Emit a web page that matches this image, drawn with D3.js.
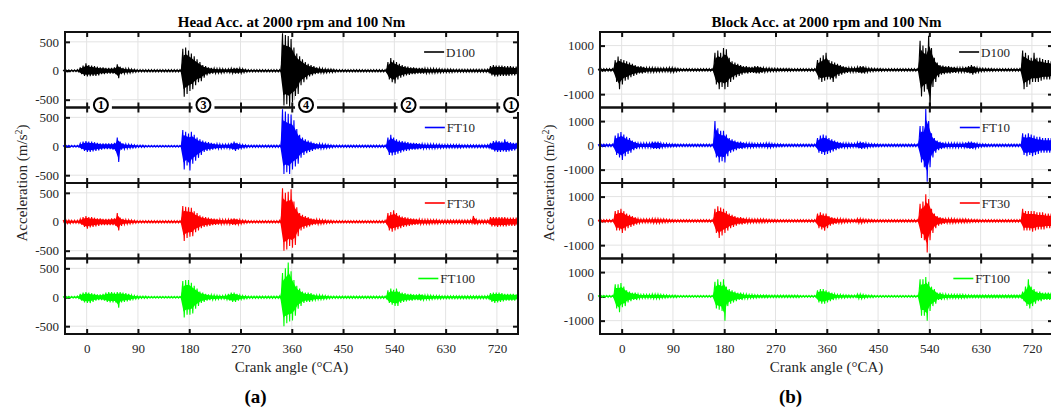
<!DOCTYPE html>
<html><head><meta charset="utf-8">
<script src="https://cdn.jsdelivr.net/npm/d3@7"></script>
<style>
body{margin:0;background:#fff}
svg{display:block}
text{font-family:"Liberation Serif","Times New Roman",serif}
</style>
</head><body>
<svg id="chart" width="1051" height="407"></svg>
<script>
// ---------------- DATA ----------------
// crank-angle bins (°CA), 5° apart, first bin at -40
const angles = d3.range(-40, 760, 5);
const xTicks = [0, 90, 180, 270, 360, 450, 540, 630, 720];
const headYTicks = [-500, 0, 500];
const blockYTicks = [-1000, 0, 1000];
const seriesNames = ["D100", "FT10", "FT30", "FT100"];
const seriesColors = ["#000000", "#0000ff", "#ff0000", "#00ff00"];
const annoLabels = ["1", "3", "4", "2", "1"];
const annoAngles = [25, 205, 385, 565, 745];
const titles = ["Head Acc. at 2000 rpm and 100 Nm", "Block Acc. at 2000 rpm and 100 Nm"];
const panelTags = ["(a)", "(b)"];

// Head accelerometer: per-bin positive / negative peaks (m/s²)
const headD100Hi = [15,15,15,15,15,20,60,90,130,100,90, 80,70,60,60,50,50,50,60,110,70, 50,40,40,30,25,20,20,20,20,20, 20,20,20,20,20,20,20,20,20,20, 20,380,400,350,300,250,200,150,100,80, 60,50,45,40,40,35,30,35,45,50, 50,45,35,25,20,20,20,20,20,20, 20,20,20,20,20,20,650,620,600,550, 400,300,250,200,150,120,100,80,60,50, 40,35,30,30,25,20,20,20,20,20, 20,20,20,20,20,20,20,20,20,20, 20,20,20,150,220,180,150,120,100,80, 70,60,60,50,50,50,45,40,40,40, 35,35,30,30,30,30,25,25,25,25, 25,25,25,25,25,25,25,25,30,80, 100,90,90,90,80,80,80,70,70];
const headD100Lo = [-15,-15,-15,-15,-15,-20,-60,-90,-100,-95,-90, -90,-80,-60,-60,-50,-50,-50,-60,-130,-60, -50,-40,-40,-30,-25,-20,-20,-20,-20,-20, -20,-20,-20,-20,-20,-20,-20,-20,-20,-20, -20,-450,-400,-350,-320,-250,-200,-180,-120,-80, -60,-50,-45,-40,-40,-35,-30,-35,-45,-50, -50,-45,-35,-25,-20,-20,-20,-20,-20,-20, -20,-20,-20,-20,-20,-20,-600,-580,-620,-550, -500,-400,-250,-200,-150,-100,-80,-60,-50,-40, -40,-35,-30,-30,-25,-20,-20,-20,-20,-20, -20,-20,-20,-20,-20,-20,-20,-20,-20,-20, -20,-20,-20,-150,-200,-220,-150,-120,-100,-80, -70,-60,-60,-50,-50,-50,-45,-40,-40,-40, -35,-35,-30,-30,-30,-30,-25,-25,-25,-25, -25,-25,-25,-25,-25,-25,-25,-25,-30,-80, -100,-100,-90,-90,-90,-90,-80,-80,-80];
const headFT10Hi = [15,15,15,15,15,15,50,80,90,80,80, 70,60,50,50,50,50,50,60,150,80, 50,40,35,30,25,20,20,20,15,15, 15,15,15,15,15,15,15,15,15,15, 15,280,250,220,250,200,150,120,100,80, 70,60,50,45,40,35,35,40,60,80, 60,40,30,25,20,20,20,20,20,20, 20,20,20,20,20,20,640,600,560,550, 450,300,200,150,120,100,80,60,50,45, 40,35,30,25,20,20,20,20,20,20, 20,20,20,20,20,20,20,20,20,20, 20,20,20,150,200,150,120,100,90,80, 70,60,60,55,50,45,40,40,40,40, 35,35,30,30,30,30,30,30,30,25, 25,25,25,25,25,25,25,25,30,60, 90,100,90,80,120,80,70,60,60];
const headFT10Lo = [-15,-15,-15,-15,-15,-15,-50,-80,-100,-100,-90, -80,-70,-60,-50,-50,-50,-60,-80,-270,-60, -50,-40,-35,-30,-25,-20,-20,-20,-15,-15, -15,-15,-15,-15,-15,-15,-15,-15,-15,-15, -15,-400,-330,-420,-300,-250,-200,-150,-100,-80, -70,-60,-50,-45,-40,-35,-35,-40,-60,-80, -60,-40,-30,-25,-20,-20,-20,-20,-20,-20, -20,-20,-20,-20,-20,-20,-480,-450,-480,-400, -350,-300,-200,-150,-120,-100,-80,-60,-50,-45, -40,-35,-30,-25,-20,-20,-20,-20,-20,-20, -20,-20,-20,-20,-20,-20,-20,-20,-20,-20, -20,-20,-20,-150,-160,-150,-130,-110,-90,-80, -70,-60,-60,-55,-50,-45,-40,-40,-40,-40, -35,-35,-30,-30,-30,-30,-30,-30,-30,-25, -25,-25,-25,-25,-25,-25,-25,-25,-30,-60, -90,-100,-100,-90,-100,-90,-80,-70,-60];
const headFT30Hi = [30,30,30,25,25,25,50,80,100,80,80, 70,60,60,50,50,50,60,60,150,70, 50,40,35,30,25,20,20,20,20,20, 20,20,20,20,20,20,20,20,20,20, 20,270,260,250,240,180,150,110,90,80, 70,60,55,50,45,40,40,45,55,60, 50,40,30,25,20,20,20,20,20,20, 20,20,20,20,20,25,580,500,520,560, 350,250,150,120,100,80,60,50,45,40, 35,30,25,25,20,20,20,20,20,20, 20,20,20,20,20,20,20,20,20,20, 20,20,25,150,170,200,150,110,90,80, 70,60,55,50,45,40,40,40,35,35, 35,30,30,30,30,30,30,30,30,30, 30,30,30,100,40,30,30,30,30,80, 80,80,80,80,80,70,70,70,70];
const headFT30Lo = [-30,-30,-30,-25,-25,-25,-50,-90,-120,-100,-90, -80,-70,-60,-60,-60,-60,-60,-70,-150,-70, -50,-40,-35,-30,-25,-20,-20,-20,-20,-20, -20,-20,-20,-20,-20,-20,-20,-20,-20,-20, -20,-330,-280,-260,-250,-180,-150,-110,-90,-80, -70,-60,-55,-50,-45,-40,-40,-45,-55,-60, -50,-40,-30,-25,-20,-20,-20,-20,-20,-20, -20,-20,-20,-20,-20,-25,-500,-480,-420,-450, -400,-250,-150,-120,-100,-80,-60,-50,-45,-40, -35,-30,-25,-25,-20,-20,-20,-20,-20,-20, -20,-20,-20,-20,-20,-20,-20,-20,-20,-20, -20,-20,-25,-150,-170,-150,-130,-110,-90,-80, -70,-60,-55,-50,-45,-40,-40,-40,-35,-35, -35,-30,-30,-30,-30,-30,-30,-30,-30,-30, -30,-30,-30,-50,-40,-30,-30,-30,-30,-80, -80,-90,-80,-80,-80,-70,-70,-70,-70];
const headFT100Hi = [15,15,15,15,15,20,60,80,90,80,70, 60,50,50,60,80,90,90,80,90,90, 80,70,60,40,30,25,20,20,20,15, 15,15,15,15,15,15,15,15,15,15, 15,280,300,300,250,200,150,100,80,60, 50,45,40,35,30,30,40,60,80,80, 60,40,30,25,20,20,20,20,20,20, 20,20,20,20,20,25,420,500,600,450, 300,200,150,100,80,80,70,50,40,40, 35,30,25,20,20,20,20,20,20,20, 20,20,20,20,20,20,20,20,20,20, 20,20,20,120,150,130,150,100,80,70, 60,60,50,50,60,50,40,40,35,30, 30,30,25,25,25,25,25,25,25,25, 25,25,25,25,25,25,25,25,30,70, 80,80,80,70,60,60,60,60,50];
const headFT100Lo = [-15,-15,-15,-15,-15,-20,-60,-90,-100,-100,-80, -60,-50,-50,-60,-80,-90,-90,-90,-180,-90, -80,-70,-60,-40,-30,-25,-20,-20,-20,-15, -15,-15,-15,-15,-15,-15,-15,-15,-15,-15, -15,-350,-300,-300,-280,-200,-150,-100,-80,-60, -50,-45,-40,-35,-30,-30,-40,-60,-80,-80, -60,-40,-30,-25,-20,-20,-20,-20,-20,-20, -20,-20,-20,-20,-20,-25,-500,-450,-420,-400, -320,-200,-150,-100,-80,-80,-70,-50,-40,-40, -35,-30,-25,-20,-20,-20,-20,-20,-20,-20, -20,-20,-20,-20,-20,-20,-20,-20,-20,-20, -20,-20,-20,-100,-130,-150,-150,-100,-80,-70, -60,-60,-50,-50,-60,-50,-40,-40,-35,-30, -30,-30,-25,-25,-25,-25,-25,-25,-25,-25, -25,-25,-25,-25,-25,-25,-25,-25,-30,-80, -100,-90,-80,-70,-60,-60,-60,-60,-50];

// Block accelerometer: per-bin positive / negative peaks (m/s²)
const blockD100Hi = [50,50,50,50,50,50,400,550,450,400,350, 300,250,200,150,150,120,100,100,100,90, 90,80,80,80,100,100,80,60,50,50, 50,50,50,50,50,50,50,50,50,50, 700,800,700,900,850,500,350,300,250,200, 150,150,120,120,150,150,120,100,80,80, 70,70,60,60,60,60,60,50,50,50, 50,50,50,50,50,50,400,500,600,700, 400,350,300,250,200,150,120,100,100,90, 120,150,150,100,80,70,60,60,60,50, 50,50,50,50,50,50,50,50,50,50, 50,50,1200,1000,900,1400,900,500,300,200, 180,150,150,120,120,100,100,100,120,150, 200,150,100,80,70,60,60,60,50,50, 50,50,50,50,50,50,50,50,800,700, 600,500,700,500,500,450,400,400,350];
const blockD100Lo = [-50,-50,-50,-50,-50,-50,-500,-800,-600,-450,-400, -300,-250,-200,-150,-150,-120,-100,-100,-100,-90, -90,-80,-80,-80,-100,-100,-80,-60,-50,-50, -50,-50,-50,-50,-50,-50,-50,-50,-50,-50, -600,-800,-700,-800,-700,-500,-400,-300,-250,-200, -150,-150,-120,-120,-150,-150,-120,-100,-80,-80, -70,-70,-60,-60,-60,-60,-60,-50,-50,-50, -50,-50,-50,-50,-50,-50,-400,-500,-450,-400, -400,-500,-350,-250,-200,-150,-120,-100,-100,-90, -120,-150,-150,-100,-80,-70,-60,-60,-60,-50, -50,-50,-50,-50,-50,-50,-50,-50,-50,-50, -50,-50,-1100,-900,-800,-1600,-700,-500,-300,-200, -180,-150,-150,-120,-120,-100,-100,-100,-120,-150, -200,-150,-100,-80,-70,-60,-60,-60,-50,-50, -50,-50,-50,-50,-50,-50,-50,-50,-800,-700, -600,-500,-500,-500,-450,-400,-400,-400,-350];
const blockFT10Hi = [50,50,50,50,50,50,400,500,550,450,350, 300,200,150,100,100,100,100,100,150,150, 150,100,80,80,70,60,60,50,50,50, 50,50,50,50,50,50,50,50,50,50, 1000,700,600,600,450,300,250,200,150,150, 120,100,100,90,80,80,80,80,100,100, 80,70,60,60,50,50,50,50,50,50, 50,50,50,50,50,50,300,400,450,400, 300,250,200,150,120,100,100,90,80,80, 120,150,130,100,80,70,60,60,50,50, 50,50,50,50,50,50,50,50,50,50, 50,50,800,800,1500,1000,500,300,200,150, 120,100,100,100,100,100,90,100,120,150, 150,120,90,70,60,60,50,50,50,50, 50,50,50,50,50,50,50,50,500,450, 500,450,400,350,350,300,300,300,300];
const blockFT10Lo = [-50,-50,-50,-50,-50,-50,-400,-500,-600,-450,-350, -300,-200,-150,-100,-100,-100,-100,-100,-150,-150, -150,-100,-80,-80,-70,-60,-60,-50,-50,-50, -50,-50,-50,-50,-50,-50,-50,-50,-50,-50, -500,-700,-650,-700,-450,-300,-250,-200,-150,-150, -120,-100,-100,-90,-80,-80,-80,-80,-100,-100, -80,-70,-60,-60,-50,-50,-50,-50,-50,-50, -50,-50,-50,-50,-50,-50,-300,-350,-400,-350, -300,-250,-200,-150,-120,-100,-100,-90,-80,-80, -120,-150,-130,-100,-80,-70,-60,-60,-50,-50, -50,-50,-50,-50,-50,-50,-50,-50,-50,-50, -50,-50,-700,-900,-1500,-900,-500,-300,-200,-150, -120,-100,-100,-100,-100,-100,-90,-100,-120,-150, -150,-120,-90,-70,-60,-60,-50,-50,-50,-50, -50,-50,-50,-50,-50,-50,-50,-50,-400,-450, -400,-450,-400,-350,-300,-300,-300,-300,-300];
const blockFT30Hi = [50,50,50,50,50,50,400,450,500,400,300, 250,200,150,100,80,80,80,80,100,100, 100,80,80,70,60,60,50,50,50,50, 50,50,50,50,50,50,50,50,50,50, 500,600,550,500,400,300,250,200,150,150, 120,100,90,80,80,80,80,80,70,60, 60,60,50,50,50,50,50,50,50,50, 50,50,50,50,50,50,300,350,300,300, 200,150,120,100,100,80,80,70,60,60, 100,100,80,70,60,60,50,50,50,50, 50,50,50,50,50,50,50,50,50,50, 50,50,700,800,1100,900,500,300,200,150, 120,100,100,100,90,80,80,80,80,70, 60,60,60,50,50,50,50,50,50,50, 50,50,50,50,50,50,50,50,500,400, 400,400,400,350,350,350,300,300,300];
const blockFT30Lo = [-50,-50,-50,-50,-50,-50,-400,-400,-500,-400,-300, -250,-200,-150,-100,-80,-80,-80,-80,-100,-100, -100,-80,-80,-70,-60,-60,-50,-50,-50,-50, -50,-50,-50,-50,-50,-50,-50,-50,-50,-50, -500,-700,-600,-500,-400,-300,-250,-200,-150,-150, -120,-100,-90,-80,-80,-80,-80,-80,-70,-60, -60,-60,-50,-50,-50,-50,-50,-50,-50,-50, -50,-50,-50,-50,-50,-50,-300,-350,-400,-300, -200,-150,-120,-100,-100,-80,-80,-70,-60,-60, -100,-100,-80,-70,-60,-60,-50,-50,-50,-50, -50,-50,-50,-50,-50,-50,-50,-50,-50,-50, -50,-50,-700,-800,-1300,-800,-500,-300,-200,-150, -120,-100,-100,-100,-90,-80,-80,-80,-80,-70, -60,-60,-60,-50,-50,-50,-50,-50,-50,-50, -50,-50,-50,-50,-50,-50,-50,-50,-400,-400, -400,-450,-400,-350,-350,-350,-300,-300,-300];
const blockFT100Hi = [40,40,40,40,40,40,500,500,550,400,250, 200,150,150,100,80,80,80,80,100,100, 100,80,70,60,50,50,50,40,40,40, 40,40,40,40,40,40,40,40,40,40, 600,700,600,700,400,300,250,200,150,150, 100,100,80,80,70,60,60,60,60,50, 50,50,50,50,50,50,50,50,50,50, 40,40,40,40,40,40,250,300,300,250, 200,150,100,80,80,70,60,60,50,50, 100,100,80,60,50,50,40,40,40,40, 40,40,40,40,40,40,40,40,40,40, 40,40,700,700,800,600,400,300,150,150, 100,100,80,80,80,80,80,80,70,60, 60,60,60,60,60,60,60,60,60,60, 60,60,60,60,60,60,60,60,200,400, 700,400,300,200,200,150,150,150,150];
const blockFT100Lo = [-40,-40,-40,-40,-40,-40,-500,-650,-450,-400,-250, -200,-150,-150,-100,-80,-80,-80,-80,-100,-100, -100,-80,-70,-60,-50,-50,-50,-40,-40,-40, -40,-40,-40,-40,-40,-40,-40,-40,-40,-40, -500,-550,-600,-1000,-400,-300,-250,-200,-150,-150, -100,-100,-80,-80,-70,-60,-60,-60,-60,-50, -50,-50,-50,-50,-50,-50,-50,-50,-50,-50, -40,-40,-40,-40,-40,-40,-250,-300,-300,-250, -200,-150,-100,-80,-80,-70,-60,-60,-50,-50, -100,-100,-80,-60,-50,-50,-40,-40,-40,-40, -40,-40,-40,-40,-40,-40,-40,-40,-40,-40, -40,-40,-800,-800,-1000,-600,-400,-300,-150,-150, -100,-100,-80,-80,-80,-80,-80,-80,-70,-60, -60,-60,-60,-60,-60,-60,-60,-60,-60,-60, -60,-60,-60,-60,-60,-60,-60,-60,-200,-400, -500,-400,-300,-200,-200,-150,-150,-150,-150];

// ---------------- LAYOUT ----------------
const svg = d3.select("#chart");
const xDomain = [-38, 757];
const panelTop = 32, subH = 75.5, nSub = 4;
const panels = [
  { left: 65, right: 518, yDomain: [-635, 670], yTicks: headYTicks,
    hi: [headD100Hi, headFT10Hi, headFT30Hi, headFT100Hi],
    lo: [headD100Lo, headFT10Lo, headFT30Lo, headFT100Lo], labelX: 22, anno: true },
  { left: 600, right: 1053, yDomain: [-1550, 1560], yTicks: blockYTicks,
    hi: [blockD100Hi, blockFT10Hi, blockFT30Hi, blockFT100Hi],
    lo: [blockD100Lo, blockFT10Lo, blockFT30Lo, blockFT100Lo], labelX: 549, anno: false }
];
const txt = "#262626";

panels.forEach((p, pi) => {
  const x = d3.scaleLinear().domain(xDomain).range([p.left, p.right]);
  const binW = x(5) - x(0);
  const bottomAll = panelTop + nSub * subH;

  for (let k = 0; k < nSub; k++) {
    const top = panelTop + k * subH, bottom = top + subH;
    const y = d3.scaleLinear().domain(p.yDomain).range([bottom, top]);
    const g = svg.append("g");

    // grid
    g.append("g").selectAll("line").data(xTicks).join("line")
      .attr("x1", d => x(d)).attr("x2", d => x(d)).attr("y1", top).attr("y2", bottom)
      .attr("stroke", "#e3e3e3").attr("stroke-width", 1);
    g.append("g").selectAll("line").data(p.yTicks).join("line")
      .attr("x1", p.left).attr("x2", p.right).attr("y1", d => y(d)).attr("y2", d => y(d))
      .attr("stroke", "#e3e3e3").attr("stroke-width", 1);

    // axes (inward ticks on all four sides)
    const isLast = k === nSub - 1;
    const axB = g.append("g").attr("transform", `translate(0,${bottom})`)
      .call(d3.axisBottom(x).tickValues(xTicks).tickSizeInner(-5).tickSizeOuter(0).tickPadding(9.5)
        .tickFormat(isLast ? d3.format("d") : () => ""));
    const axT = g.append("g").attr("transform", `translate(0,${top})`)
      .call(d3.axisTop(x).tickValues(xTicks).tickSizeInner(-5).tickSizeOuter(0).tickFormat(() => ""));
    const axL = g.append("g").attr("transform", `translate(${p.left},0)`)
      .call(d3.axisLeft(y).tickValues(p.yTicks).tickSizeInner(-5).tickSizeOuter(0).tickPadding(6)
        .tickFormat(d3.format("d")));
    const axR = g.append("g").attr("transform", `translate(${p.right},0)`)
      .call(d3.axisRight(y).tickValues(p.yTicks).tickSizeInner(-5).tickSizeOuter(0).tickFormat(() => ""));
    [axB, axT, axL, axR].forEach(a => {
      a.select(".domain").remove();
      a.selectAll(".tick line").attr("stroke", "#111").attr("stroke-width", 2);
      a.selectAll(".tick text").attr("fill", txt).style("font-size", "13px")
        .style("font-family", '"Liberation Serif","Times New Roman",serif');
    });
    axL.selectAll(".tick text").text(d => d < 0 ? "-" + Math.abs(d) : d);

    // signal: filled core between per-bin peaks + zig-zag trace on top
    const hi = p.hi[k], lo = p.lo[k];
    const core = d3.area().x((d, i) => x(angles[i]))
      .y0((d, i) => y(lo[i] * 0.7)).y1((d, i) => y(hi[i] * 0.7));
    g.append("path").attr("d", core(angles)).attr("fill", seriesColors[k]).attr("stroke", "none");
    const pts = [];
    angles.forEach((a, i) => {
      pts.push([x(a) - binW / 4, y(hi[i])]);
      pts.push([x(a) + binW / 4, y(lo[i])]);
    });
    g.append("path").attr("d", d3.line()(pts))
      .attr("fill", "none").attr("stroke", seriesColors[k]).attr("stroke-width", 1.1)
      .attr("stroke-linejoin", "miter");

    // frame
    g.append("rect").attr("x", p.left).attr("y", top).attr("width", p.right - p.left).attr("height", subH)
      .attr("fill", "none").attr("stroke", "#111").attr("stroke-width", 2);

    // legend
    const lg = g.append("g");
    const ty = top + 20;
    const t = lg.append("text").attr("x", p.right - 43).attr("y", ty + 4.5)
      .attr("text-anchor", "end").attr("fill", txt).style("font-size", "13px").text(seriesNames[k]);
    const tw = t.node().getComputedTextLength();
    const tx0 = p.right - 43 - tw;
    lg.append("line").attr("x1", tx0 - 22).attr("x2", tx0 - 2).attr("y1", ty).attr("y2", ty)
      .attr("stroke", seriesColors[k]).attr("stroke-width", 1.6);
  }

  // annotations between first and second subplot (head panel only)
  if (p.anno) {
    const ay = panelTop + subH - 2.5;
    const ag = svg.append("g");
    annoLabels.forEach((lab, i) => {
      const cx = x(annoAngles[i]);
      ag.append("rect").attr("x", cx - 11).attr("y", ay - 9).attr("width", 22).attr("height", 16).attr("fill", "#fff");
      ag.append("circle").attr("cx", cx).attr("cy", ay).attr("r", 7)
        .attr("fill", "#fff").attr("stroke", "#000").attr("stroke-width", 2);
      ag.append("text").attr("x", cx).attr("y", ay + 4.2).attr("text-anchor", "middle")
        .style("font-size", "12px").style("font-weight", "bold").attr("fill", "#000").text(lab);
    });
  }

  // title
  svg.append("text").attr("x", (p.left + p.right) / 2).attr("y", 26.5).attr("text-anchor", "middle")
    .style("font-size", "15px").style("font-weight", "bold").attr("fill", "#000").text(titles[pi]);
  // x label
  svg.append("text").attr("x", (p.left + p.right) / 2).attr("y", 372).attr("text-anchor", "middle")
    .style("font-size", "15px").attr("fill", txt).text("Crank angle (\u00B0CA)");
  // y label
  const yl = svg.append("text").attr("transform", `translate(${p.labelX + 5},${(panelTop + bottomAll) / 2}) rotate(-90)`)
    .attr("text-anchor", "middle").style("font-size", "15px").attr("fill", txt);
  yl.append("tspan").text("Acceleration (m/s");
  yl.append("tspan").attr("dy", -5).style("font-size", "10px").text("2");
  yl.append("tspan").attr("dy", 5).text(")");
  // panel tag
  svg.append("text").attr("x", (p.left + p.right) / 2 - 36).attr("y", 403).attr("text-anchor", "middle")
    .style("font-size", "19px").style("font-weight", "bold").attr("fill", "#000").text(panelTags[pi]);
});
</script>
</body></html>
